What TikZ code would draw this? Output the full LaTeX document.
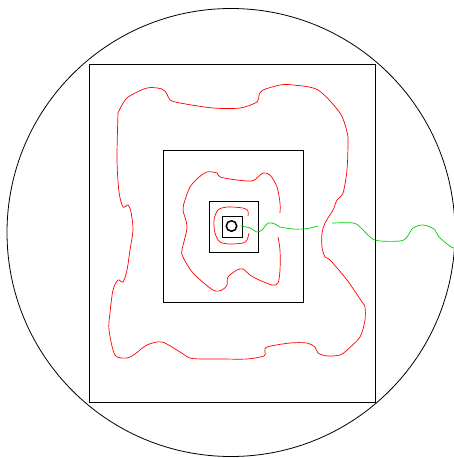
\documentclass[tikz,border=0pt]{standalone}
\begin{document}
\begin{tikzpicture}[x=1pt,y=-1pt,
  frame/.style={draw=black,line width=0.8pt},
  redline/.style={draw=red,line width=0.7pt},
  greenline/.style={draw=green!80!black,line width=0.7pt}]
\useasboundingbox (0,0) rectangle (454,458);
\node[frame,circle,minimum size=448pt,inner sep=0pt] (disk) at (231,232.5) {};
\node[frame,rectangle,minimum width=286pt,minimum height=338pt,inner sep=0pt] (outer) at (232,233) {};
\node[frame,rectangle,minimum width=140pt,minimum height=152pt,inner sep=0pt] (mid) at (233,226) {};
\node[frame,rectangle,minimum width=49pt,minimum height=51pt,inner sep=0pt] (inner) at (233.5,226.5) {};
\node[frame,line width=1pt,rectangle,minimum width=20pt,minimum height=21pt,inner sep=0pt] (core) at (232,226.5) {};
\node[frame,line width=1.5pt,circle,minimum size=10.5pt,inner sep=0pt] (hole) at (231.5,226) {};
% outer red loop
\draw[redline] plot[smooth] coordinates {(118,113) (127,98) (147,88) (162,89) (167,94) (170,100) (180,103) (213,108) (240,108) (257,102) (259,95) (263,90) (280,85) (293,85) (318,90) (340,113) (347,132) (348,142) (347,170) (343,193) (337,200) (333,210) (325,223) (322,233) (322,247) (325,257) (330,260) (347,280) (362,302) (365,307) (365,320) (360,337) (347,350) (340,355) (327,356) (318,353) (315,347) (307,343) (290,343) (267,347) (265,352) (264,356) (247,359) (220,359) (203,359) (190,358) (180,352) (162,342) (147,345) (135,354) (127,358) (115,355) (109,330) (110,313) (113,290) (118,280) (123,282) (127,270) (130,250) (133,230) (131,212) (128,205) (123,207) (119,192) (117,160) (118,113)};
% middle red loop
\draw[redline] plot[smooth] coordinates {(280,213) (280,203) (277,187) (270,175) (263,173) (258,177) (252,181) (237,180) (220,177) (217,173) (207,172) (198,178) (190,187) (185,200) (183,210) (187,227) (182,250) (183,257) (193,273) (213,290) (222,290) (227,285) (228,277) (237,270) (243,269) (250,275) (257,279) (272,285) (278,283) (280,270) (280,250) (278,237)};
% inner red hook
\draw[redline] plot[smooth] coordinates {(248,216) (248,211) (243,208) (227,207) (218,210) (214,220) (215,233) (220,242) (230,244) (243,243) (247,240) (249,233)};
% green line
\coordinate (g0) at (241,226);
\coordinate (g1) at (318,226);
\coordinate (g2) at (332,223);
\coordinate (g3) at (454,248);
\draw[greenline] plot[smooth] coordinates {(g0) (250,228) (257,232) (262,230) (268,223) (275,224) (280,227) (293,229) (303,229) (310,228) (g1)};
\draw[greenline] plot[smooth] coordinates {(g2) (353,223) (360,227) (375,240) (400,241) (407,237) (413,228) (423,225) (434,229) (439,237) (451,247) (g3)};
\end{tikzpicture}
\end{document}
